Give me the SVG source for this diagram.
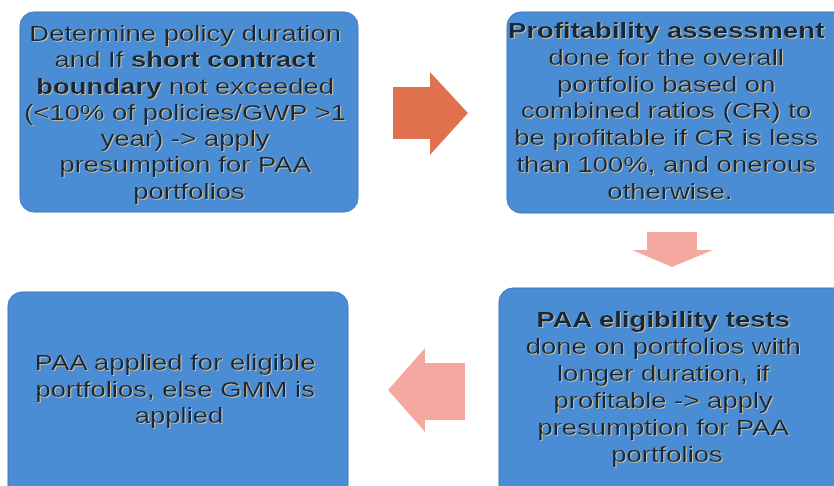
<svg xmlns="http://www.w3.org/2000/svg" width="834" height="486" viewBox="0 0 834 486">
<defs>
<filter id="emb" x="-5%" y="-20%" width="110%" height="140%">
<feDropShadow dx="0.8" dy="0.8" stdDeviation="0.3" flood-color="#d8c9a0" flood-opacity="0.9"/>
</filter>
</defs>
<style>
.box{fill:#4b8dd4;stroke:#3f7cc0;stroke-width:1}
.t{font-family:"Liberation Sans",Arial,sans-serif;font-size:22px;fill:#16283a;text-anchor:middle;filter:url(#emb)}
.b{font-weight:bold}
.a1{fill:#e0714f}
.a2{fill:#f5a89f}
</style>
<rect width="834" height="486" fill="#ffffff"/>
<g id="connectors">
<polygon class="a1" points="393,87 430,87 430,72 468,113 430,155 430,139 393,139"/>
<polygon class="a2" points="647,232 697,232 697,250 713,250 672,267 632,250 647,250"/>
<polygon class="a2" points="465,363 425,363 425,348 388,390 425,432 425,420 465,420"/>
</g>
<g id="node1">
<rect class="box" x="20" y="12" width="338" height="200" rx="14"/>
<g transform="translate(189,0) scale(1.25,1)">
<text class="t">
<tspan x="0" y="41">Determine policy duration</tspan>
<tspan x="0" y="67.3">and If <tspan class="b">short contract</tspan></tspan>
<tspan x="0" y="93.6"><tspan class="b">boundary</tspan> not exceeded</tspan>
<tspan x="0" y="120">(&lt;10% of policies/GWP &gt;1</tspan>
<tspan x="0" y="146.2">year) -&gt; apply</tspan>
<tspan x="0" y="172.5">presumption for PAA</tspan>
<tspan x="0" y="199">portfolios</tspan>
</text>
</g>
</g>
<g id="node2">
<rect class="box" x="507" y="12" width="345" height="201" rx="14"/>
<g transform="translate(670,0) scale(1.25,1)">
<text class="t">
<tspan x="0" y="38" class="b">Profitability assessment</tspan>
<tspan x="0" y="64.8">done for the overall</tspan>
<tspan x="0" y="91.6">portfolio based on</tspan>
<tspan x="0" y="118.4">combined ratios  (CR) to</tspan>
<tspan x="0" y="145.2">be profitable if CR is less</tspan>
<tspan x="0" y="172">than 100%, and onerous</tspan>
<tspan x="0" y="199">otherwise.</tspan>
</text>
</g>
</g>
<g id="node3">
<rect class="box" x="8" y="292" width="340" height="215" rx="14"/>
<g transform="translate(179,0) scale(1.25,1)">
<text class="t">
<tspan x="0" y="370">PAA applied for eligible</tspan>
<tspan x="0" y="397">portfolios, else GMM is</tspan>
<tspan x="0" y="423">applied</tspan>
</text>
</g>
</g>
<g id="node4">
<rect class="box" x="499" y="288" width="350" height="220" rx="14"/>
<g transform="translate(667,0) scale(1.25,1)">
<text class="t">
<tspan x="0" y="327" class="b">PAA eligibility tests</tspan>
<tspan x="0" y="354">done on portfolios with</tspan>
<tspan x="0" y="381">longer duration, if</tspan>
<tspan x="0" y="408">profitable -&gt; apply</tspan>
<tspan x="0" y="435">presumption for PAA</tspan>
<tspan x="0" y="462">portfolios</tspan>
</text>
</g>
</g>
</svg>
